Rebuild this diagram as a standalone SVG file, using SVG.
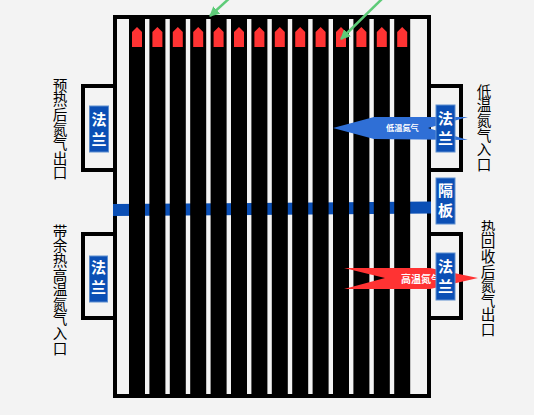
<svg xmlns="http://www.w3.org/2000/svg" width="534" height="415" viewBox="0 0 534 415">
<style>
.f{fill:#0b4fb5;stroke:#5f8fd0;stroke-width:1}
.w{fill:#fff;font:700 15px "Noto Sans CJK SC",sans-serif;writing-mode:vertical-rl;text-orientation:upright;letter-spacing:4.500px}
.v{fill:#000;font:14.600px "Noto Sans CJK SC",sans-serif;writing-mode:vertical-rl;text-orientation:upright}
.o{fill:none;stroke:#000;stroke-width:4}
.b{fill:#000}
.r{fill:#ff3333}
.c{fill:none;stroke:#5ecb78;stroke-width:2.5;marker-end:url(#g)}
</style>
<defs>
<marker id="g" viewBox="0 0 10 10" refX="9" refY="5" markerWidth="4" markerHeight="4" orient="auto"><path d="M0 0L10 5L0 10Z" fill="#5ecb78"/></marker>
<path id="p" d="M132 32L137 27L142 32V47H132Z"/>
<rect id="bar" x="129" y="18" width="16" height="376"/>
</defs>
<rect width="534" height="415" fill="#f3f3f3"/>
<g id="body">
<rect class="o" x="115" y="17" width="314" height="379" fill="#f3f3f3"/>
<polygon id="baffle-band" points="113,204 431,201.500 431,213.500 113,216" fill="#0b4fb5"/>
<g class="b">
<use href="#bar"/><use href="#bar" x="20.400"/><use href="#bar" x="40.800"/><use href="#bar" x="61.200"/><use href="#bar" x="81.600"/><use href="#bar" x="102"/><use href="#bar" x="122.400"/><use href="#bar" x="142.800"/><use href="#bar" x="163.200"/><use href="#bar" x="183.600"/><use href="#bar" x="204"/><use href="#bar" x="224.400"/><use href="#bar" x="244.800"/><use href="#bar" x="265.200"/>
</g>
<g class="r">
<use href="#p"/><use href="#p" x="20.400"/><use href="#p" x="40.800"/><use href="#p" x="61.200"/><use href="#p" x="81.600"/><use href="#p" x="102"/><use href="#p" x="122.400"/><use href="#p" x="142.800"/><use href="#p" x="163.200"/><use href="#p" x="183.600"/><use href="#p" x="204"/><use href="#p" x="224.400"/><use href="#p" x="244.800"/><use href="#p" x="265.200"/>
</g>
</g>
<g id="flange-lt"><path class="o" d="M113 86H83V170H113"/><rect class="f" x="89.500" y="106" width="19" height="46"/><text class="w" x="99" y="112">法兰</text></g>
<g id="flange-lb"><path class="o" d="M113 234H83V318H113"/><rect class="f" x="89.500" y="256" width="18" height="46"/><text class="w" x="98.500" y="260">法兰</text></g>
<g id="flange-rt"><path class="o" d="M431 86H461V170H431"/></g>
<g id="flange-rb"><path class="o" d="M431 234H461V318H431"/></g>
<g id="arrow-cold"><polygon points="333,128 374,117 468,117 428,128 468,140 374,139" fill="#2f6fd6"/><text x="386" y="131" fill="#fff" font-family="'Noto Sans CJK SC',sans-serif" font-size="8.200" font-weight="700">低温氮气</text></g>
<g id="arrow-hot"><polygon points="344,268 430,268 478,278 430,289 344,289 385,278" fill="#ff3333"/><text x="401" y="283" fill="#fff" font-family="'Noto Sans CJK SC',sans-serif" font-size="10" font-weight="700">高温氮气</text></g>
<g id="flange-rt-label"><rect class="f" x="436" y="105" width="19" height="47"/><text class="w" x="445.500" y="111">法兰</text></g>
<g id="flange-rb-label"><rect class="f" x="436" y="253" width="19" height="47"/><text class="w" x="445.500" y="259">法兰</text></g>
<g id="baffle-label"><rect class="f" x="436" y="178" width="19" height="46"/><text class="w" x="445.500" y="183">隔板</text></g>
<g id="labels">
<text class="v" x="60" y="78">预热后氮气出口</text>
<text class="v" x="60" y="224">带余热高温氮气入口</text>
<text class="v" x="484" y="84">低温氮气入口</text>
<text class="v" x="488" y="220">热回收后氮气出口</text>
</g>
<g id="connectors">
<line class="c" x1="233" y1="-5" x2="210" y2="16"/>
<line class="c" x1="385" y1="-4" x2="341" y2="39"/>
</g>
</svg>
